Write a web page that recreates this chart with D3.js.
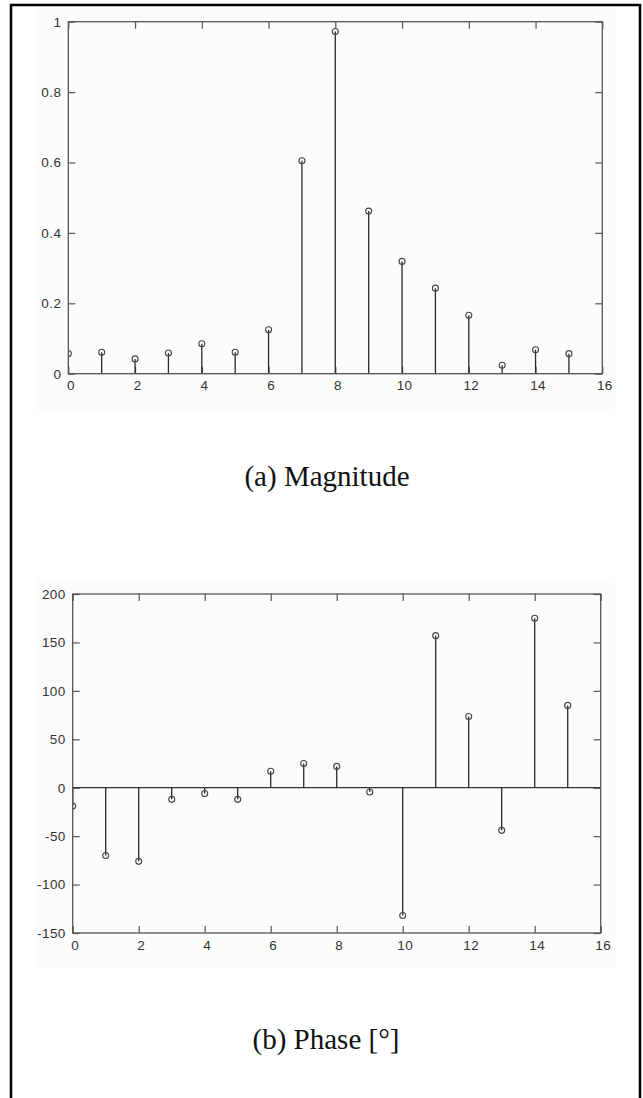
<!DOCTYPE html>
<html>
<head>
<meta charset="utf-8">
<script src="https://cdn.jsdelivr.net/npm/d3@7"></script>
<style>
  body { margin: 0; background: #fff; }
  .tick text { font-family: "Liberation Sans Narrow", "Arial Narrow", "Liberation Sans", sans-serif; font-size: 13.5px; fill: #333; letter-spacing: 0.4px; }
</style>
</head>
<body>
<div id="chart"></div>
<script>
const bins = [0, 1, 2, 3, 4, 5, 6, 7, 8, 9, 10, 11, 12, 13, 14, 15];
const magnitude = [0.057, 0.061, 0.042, 0.059, 0.085, 0.061, 0.125, 0.605,
  0.972, 0.462, 0.319, 0.243, 0.166, 0.024, 0.068, 0.057];
const phase = [-19, -70, -76, -12, -6, -12, 17, 25, 22, -4.5, -132, 157, 73.5, -44, 175, 85];

const xTicks = [0, 2, 4, 6, 8, 10, 12, 14, 16];
const magTicks = [0, 0.2, 0.4, 0.6, 0.8, 1];
const phaseTicks = [-150, -100, -50, 0, 50, 100, 150, 200];

const width = 643;
const height = 1098;

const svg = d3
  .select("#chart")
  .append("svg")
  .attr("width", width)
  .attr("height", height);

// draws one MATLAB-like stem plot
function stemPlot(box, values, yDomain, yTicks, caption, id) {
  // very light figure background
  svg
    .append("rect")
    .attr("x", box.bgX0)
    .attr("y", box.bgY0)
    .attr("width", box.bgX1 - box.bgX0)
    .attr("height", box.bgY1 - box.bgY0)
    .attr("fill", "#fcfcfc");

  const x = d3.scaleLinear().domain([0, 16]).range([box.left, box.right]);
  const y = d3.scaleLinear().domain(yDomain).range([box.bottom, box.top]);

  const fmt = (d) => (d < 0 ? "-" + Math.abs(d) : String(d));

  const tick = 7;
  const styleAxis = (g) => {
    g.select(".domain").remove();
    g.selectAll(".tick line").attr("stroke", "#555").attr("stroke-width", 1.2);
  };

  svg.append("g")
    .attr("transform", `translate(0, ${box.bottom})`)
    .call(d3.axisBottom(x).tickValues(xTicks).tickFormat(fmt).tickSizeInner(-tick).tickPadding(7))
    .call(styleAxis)
    .selectAll("text").attr("dx", "0.15em");

  svg.append("g")
    .attr("transform", `translate(0, ${box.top})`)
    .call(d3.axisTop(x).tickValues(xTicks).tickFormat("").tickSizeInner(-tick))
    .call(styleAxis);

  svg.append("g")
    .attr("transform", `translate(${box.left}, 0)`)
    .call(d3.axisLeft(y).tickValues(yTicks).tickFormat(fmt).tickSizeInner(-tick).tickPadding(7))
    .call(styleAxis);

  svg.append("g")
    .attr("transform", `translate(${box.right}, 0)`)
    .call(d3.axisRight(y).tickValues(yTicks).tickFormat("").tickSizeInner(-tick))
    .call(styleAxis);

  svg.append("clipPath")
    .attr("id", id)
    .append("rect")
    .attr("x", box.left)
    .attr("y", box.top)
    .attr("width", box.right - box.left)
    .attr("height", box.bottom - box.top);

  const plot = svg.append("g").attr("clip-path", `url(#${id})`);

  // stem baseline
  plot.append("line")
    .attr("x1", box.left)
    .attr("x2", box.right)
    .attr("y1", y(0))
    .attr("y2", y(0))
    .attr("stroke", "#333")
    .attr("stroke-width", 1.2);

  plot.selectAll(".stem")
    .data(bins)
    .enter()
    .append("line")
    .attr("class", "stem")
    .attr("x1", (d) => x(d))
    .attr("x2", (d) => x(d))
    .attr("y1", y(0))
    .attr("y2", (d, i) => y(values[i]))
    .attr("stroke", "#2a2a2a")
    .attr("stroke-width", 1.3);

  plot.selectAll(".mark")
    .data(bins)
    .enter()
    .append("circle")
    .attr("class", "mark")
    .attr("cx", (d) => x(d))
    .attr("cy", (d, i) => y(values[i]))
    .attr("r", 3)
    .attr("fill", "none")
    .attr("stroke", "#444")
    .attr("stroke-width", 1.1);

  // axes box
  svg.append("rect")
    .attr("x", box.left)
    .attr("y", box.top)
    .attr("width", box.right - box.left)
    .attr("height", box.bottom - box.top)
    .attr("fill", "none")
    .attr("stroke", "#555")
    .attr("stroke-width", 1.3);

  svg.append("text")
    .attr("x", box.captionX)
    .attr("y", box.captionY)
    .attr("text-anchor", "middle")
    .attr("font-family", "'Liberation Serif', 'Times New Roman', serif")
    .attr("font-size", 29)
    .attr("fill", "#111")
    .text(caption);
}

stemPlot(
  { left: 68.3, right: 602.3, top: 21.7, bottom: 373.7,
    bgX0: 37, bgX1: 615, bgY0: 8, bgY1: 410, captionX: 327, captionY: 486 },
  magnitude, [0, 1], magTicks, "(a) Magnitude", "clip-a"
);

stemPlot(
  { left: 72.7, right: 600.7, top: 594, bottom: 933,
    bgX0: 36, bgX1: 615, bgY0: 578, bgY1: 968, captionX: 326, captionY: 1049 },
  phase, [-150, 200], phaseTicks, "(b) Phase [°]", "clip-b"
);

// outer frame (open at the bottom)
svg.append("path")
  .attr("d", `M11,${height} V5 H640 V${height}`)
  .attr("fill", "none")
  .attr("stroke", "#000")
  .attr("stroke-width", 2.5);
</script>
</body>
</html>
